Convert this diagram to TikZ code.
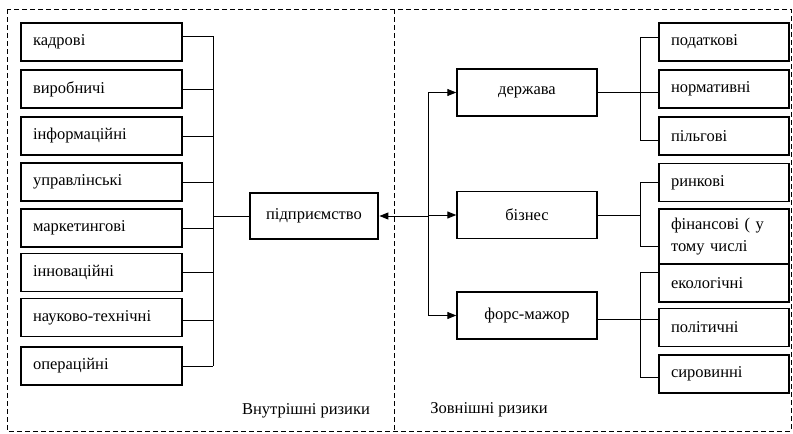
\documentclass[tikz,border=0pt]{standalone}
\usepackage{fontspec}
\setmainfont{Liberation Serif}
\usetikzlibrary{arrows.meta}
\tikzset{
  base/.style={font=\fontsize{16.5}{22}\selectfont},
  lbox/.style={base, draw, line width=1.4pt, minimum width=161pt, minimum height=38pt, text width=137pt, inner xsep=12pt, align=left},
  rbox/.style={base, draw, line width=1.4pt, minimum width=130pt, minimum height=38pt, text width=106pt, inner xsep=12pt, align=left},
  mbox/.style={base, draw, line width=1.4pt, minimum width=140pt, minimum height=47pt},
  pbox/.style={base, draw, line width=2.8pt, minimum width=128pt, minimum height=46pt},
  conn/.style={line width=1pt},
  frame/.style={line width=0.8pt, dash pattern=on 5pt off 3pt},
  tip/.style={-{Triangle[length=9pt,width=7pt]}},
  lbl/.style={base}
}
\begin{document}
\begin{tikzpicture}[x=1pt,y=-1pt]
\useasboundingbox (0,0) rectangle (793,434);
% frame
\draw[frame] (7,9) rectangle (791,431);
\draw[frame] (394,9) -- (394,431);
% left boxes
\node[lbox] (k1) at (101.5,42) {кадрові};
\node[lbox] (k2) at (101.5,89) {виробничі};
\node[lbox] (k3) at (101.5,136) {інформаційні};
\node[lbox] (k4) at (101.5,182) {управлінські};
\node[lbox] (k5) at (101.5,228) {маркетингові};
\node[lbox] (k6) at (101.5,272.5) {інноваційні};
\node[lbox] (k7) at (101.5,317.5) {науково-технічні};
\node[lbox] (k8) at (101.5,366) {операційні};
\coordinate (bl) at (213,0);
\draw[conn] ([yshift=6pt]k1.east) -- ([yshift=6pt]k1.east -| bl);
\draw[conn] (k2.east) -- (k2.east -| bl);
\draw[conn] (k3.east) -- (k3.east -| bl);
\draw[conn] (k4.east) -- (k4.east -| bl);
\draw[conn] (k5.east) -- (k5.east -| bl);
\draw[conn] (k6.east) -- (k6.east -| bl);
\draw[conn] ([yshift=-3pt]k7.east) -- ([yshift=-3pt]k7.east -| bl);
\draw[conn] (k8.east) -- (k8.east -| bl);
\draw[conn] ([yshift=6pt]k1.east -| bl) -- (k8.east -| bl);
% centre
\node[pbox] (p) at (314,216) {підприємство};
\draw[conn] (p.west) -- (p.west -| bl);
% middle right
\node[mbox] (d) at (527,92.5) {держава};
\node[mbox] (b) at (527,215) {бізнес};
\node[mbox] (f) at (527,315.5) {форс-мажор};
\coordinate (bm) at (428,0);
\draw[conn, tip] (p.east -| bm) -- (p.east);
\draw[conn] (d.west -| bm) -- (f.west -| bm);
\draw[conn, tip] (d.west -| bm) -- (d.west);
\draw[conn, tip] (b.west -| bm) -- (b.west);
\draw[conn, tip] (f.west -| bm) -- (f.west);
% right boxes
\node[rbox] (r1) at (724,42) {податкові};
\node[rbox] (r2) at (724,89) {нормативні};
\node[rbox] (r3) at (724,136) {пільгові};
\node[rbox] (r4) at (724,182.5) {ринкові};
\node[rbox, minimum height=55pt] (r5) at (724,236.5) {фінансові ( у\\тому числі};
\node[rbox] (r6) at (724,283) {екологічні};
\node[rbox] (r7) at (724,327.5) {політичні};
\node[rbox] (r8) at (724,374) {сировинні};
\coordinate (br) at (640,0);
% derzhava group
\draw[conn] (d.east) -- (d.east -| r2.west);
\draw[conn] ([yshift=5pt]r1.west) -- ([yshift=5pt]r1.west -| br);
\draw[conn] ([yshift=-4pt]r3.west) -- ([yshift=-4pt]r3.west -| br);
\draw[conn] ([yshift=5pt]r1.west -| br) -- ([yshift=-4pt]r3.west -| br);
% biznes group
\draw[conn] (b.east) -- (b.east -| br);
\draw[conn] (r4.west) -- (r4.west -| br);
\draw[conn] ([yshift=-10pt]r5.west) -- ([yshift=-10pt]r5.west -| br);
\draw[conn] (r4.west -| br) -- ([yshift=-10pt]r5.west -| br);
% fors group
\draw[conn] ([yshift=-4pt]f.east) -- ([yshift=-4pt]f.east -| r7.west);
\draw[conn] ([yshift=11pt]r6.west) -- ([yshift=11pt]r6.west -| br);
\draw[conn] ([yshift=-3pt]r8.west) -- ([yshift=-3pt]r8.west -| br);
\draw[conn] ([yshift=11pt]r6.west -| br) -- ([yshift=-3pt]r8.west -| br);
% labels
\node[lbl] (li) at (306,411) {Внутрішні ризики};
\node[lbl] (le) at (489,410) {Зовнішні ризики};
\end{tikzpicture}
\end{document}
